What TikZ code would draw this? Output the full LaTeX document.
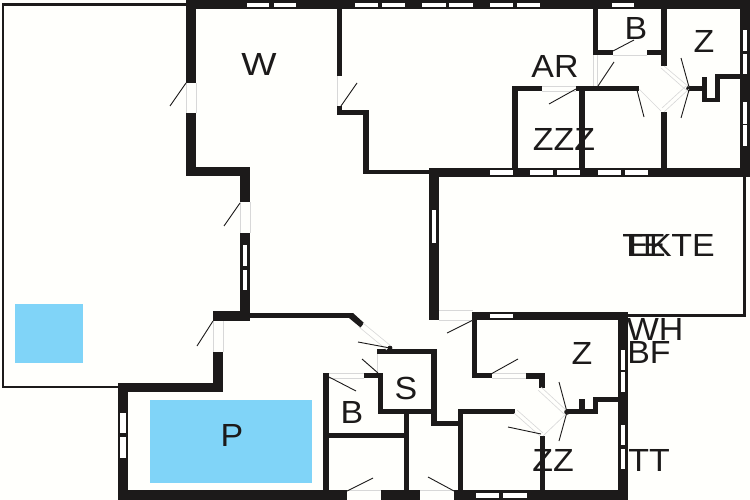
\documentclass[tikz,border=0pt]{standalone}
\usepackage{fontspec}
\setmainfont{Liberation Sans}
\definecolor{wallc}{HTML}{1C1A1A}
\definecolor{poolc}{HTML}{80D4F8}
\definecolor{openc}{HTML}{D8D8D8}
\tikzset{
  wall/.style={fill=wallc,draw=none},
  glass/.style={fill=white,draw=none},
  pool/.style={fill=poolc,draw=none},
  swing/.style={draw=wallc,line width=0.9pt},
  opening/.style={draw=openc,line width=0.6pt},
  edge/.style={draw=wallc,line width=2.4pt,line join=miter},
  lbl/.style={inner sep=0pt,text=wallc,font=\fontsize{32}{32}\selectfont,xscale=1.06}
}
\begin{document}
\begin{tikzpicture}[x=1pt,y=-1pt]
\useasboundingbox (0,0) rectangle (750,500);
\fill[white!99!yellow] (0,0) rectangle (750,500);
% outlines
\draw[edge] (186,4.5) -- (3,4.5) -- (3,387) -- (120,387);
\draw[edge] (744.5,177) -- (744.5,315.5) -- (628,315.5);
% pools
\fill[pool] (15,304) rectangle (83,363);
\fill[pool] (150,400) rectangle (312,483);
% walls
\foreach \a/\b/\c/\d in {
 186/0/750/9, 186/0/196/83, 186/113/196/176, 186/167/250/176, 240/167/250/202,
 240/233/250/320, 213/311/250/321, 213/352/223/392, 118/383/223/392, 118/383/128/500,
 118/490/347/500, 381/490/420/500, 454/490/628/500,
 250/313/353/318,
 337/9/342/76, 337/106/342/115, 337/110/369/115, 363/110/369/174, 363/170/429/174,
 429/168/750/177, 429/168/439/320, 740/0/750/177,
 512/86/518/168, 512/86/542/91, 576/86/639/91, 579/86/585/168,
 593/9/598/55, 593/50/613/55, 647/50/667/55, 661/9/667/66, 661/112/667/168,
 689/86/705/91, 702/77/707/102, 702/98/720/102, 715/75/720/102, 715/74/740/79,
 473/312/628/320, 618/312/628/500, 472/312/477/378, 472/373/492/378,
 526/373/545/379, 539/373/545/388,
 567/409/598/414, 579/399/585/412, 593/398/598/414, 593/397/620/402,
 458/409/515/414, 458/409/463/490, 540/436/545/490,
 323/373/329/490, 328/433/405/438, 404/412/409/490,
 364/373/383/378, 378/373/383/414, 378/409/437/414, 377/349/437/354, 431/349/437/426,
 431/421/463/426}
 {\fill[wall] (\a,\b) rectangle (\c,\d);}
\fill[wall] (353,313) -- (364,323) -- (360.5,327.5) -- (349,318) -- cycle;
\fill[wall] (689,88.5) circle (2.8);
\fill[wall] (567,412) circle (2.8);
\fill[wall] (390,348) circle (2.4);
% windows
\foreach \a/\b/\c/\d in {
 247/3/269/7, 274/3/296/7, 355/3/378/7, 382/3/405/7, 422/3/446/7, 449/3/473/7,
 490/3/513/7, 517/3/540/7, 612/3/634/7,
 743/30/747/51, 743/54/747/74, 743/102/747/124, 743/125/747/146,
 490/170/513/175, 530/170/553/175, 557/170/580/175, 598/170/621/175, 625/170/648/175,
 432/210/436/243, 243/245/247/266, 243/270/247/290,
 120/413/126/433, 120/437/126/458,
 490/314/513/318,
 621/350/625/370, 621/372/625/392, 621/425/625/445, 621/449/625/469,
 476/493/499/498, 503/493/527/498}
 {\fill[glass] (\a,\b) rectangle (\c,\d);}
% door openings
\draw[opening] (186,83) -- (186,113) (196,83) -- (196,113);
\draw[opening] (240,202) -- (240,233) (250,202) -- (250,233);
\draw[opening] (213,321) -- (213,352) (223,321) -- (223,352);
\draw[opening] (337,76) -- (337,106);
\draw[opening] (542,86) -- (576,86) (542,91) -- (576,91);
\draw[opening] (593,55) -- (593,86) (597,55) -- (597,86);
\draw[opening] (613,55) -- (647,55);
\draw[opening] (664,66) -- (689,87) (661,68) -- (686,90);
\draw[opening] (689,89) -- (664,112) (686,86) -- (662,108);
\draw[opening] (639,89) -- (661,111);
\draw[opening] (329,373.5) -- (364,373.5) (329,378) -- (364,378);
\draw[opening] (377,354) -- (377,373);
\draw[opening] (363,323) -- (391,346) (359,327) -- (387,350);
\draw[opening] (439,310) -- (473,310) (439,320) -- (473,320);
\draw[opening] (492,373) -- (526,373) (492,378) -- (526,378);
\draw[opening] (541,387) -- (567,411) (538,390) -- (564,414);
\draw[opening] (517,410) -- (543,433) (514,413) -- (540,436);
\draw[opening] (567,413) -- (543,436);
\draw[opening] (347,490) -- (381,490) (420,490) -- (454,490);
% door swings
\foreach \a/\b/\c/\d in {
 186/83/170/106, 240/203/224/226, 213/321/197/346, 341/106/357/83,
 576/89/549/104, 598/86/614/62, 613/51/634/40, 689/87/681/58, 689/90/681/118, 637/90/644/117,
 473/320/447/333, 491/374/518/359, 567/412/559/382, 567/412/559/441, 541/434/508/427,
 347/491/373/478, 454/491/428/477, 329/377/356/391, 362/359/378/373, 358/342/390/348}
 {\draw[swing] (\a,\b) -- (\c,\d);}
% labels
\node[lbl,xscale=1.1] (w) at (259,64) {W};
\node[lbl] (b1) at (636,28) {B};
\node[lbl] (z1) at (704,41) {Z};
\node[lbl] (ar) at (555,66) {AR};
\node[lbl] (zzz) at (564,139) {ZZZ};
\node[lbl] (te1) at (644,245) {TE};
\node[lbl] (ek) at (649,245) {EK};
\node[lbl] (te2) at (693,245) {TE};
\node[lbl] (wh) at (655,329) {WH};
\node[lbl] (bf) at (649,352) {BF};
\node[lbl] (z2) at (582,353) {Z};
\node[lbl] (s) at (406,388) {S};
\node[lbl] (b2) at (352,412) {B};
\node[lbl] (p) at (232,435) {P};
\node[lbl] (zz) at (553,460) {ZZ};
\node[lbl] (tt) at (649,460) {TT};
\end{tikzpicture}
\end{document}
